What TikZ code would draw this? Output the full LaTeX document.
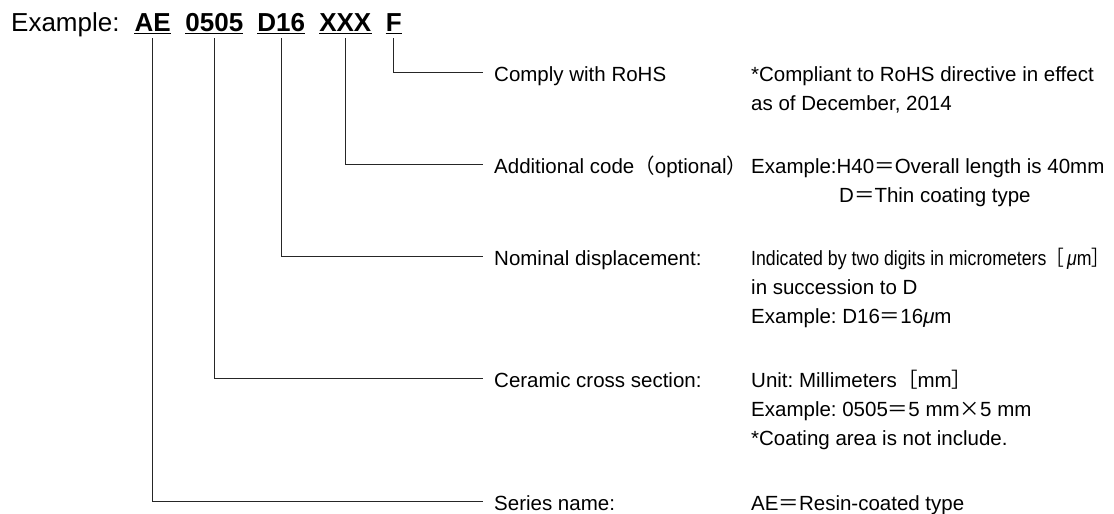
\documentclass[tikz,border=0pt]{standalone}
\usepackage{fontspec}
\setmainfont{Liberation Sans}
\newfontfamily\cjkfont{Noto Sans CJK JP}
\usepackage{graphicx}
\usetikzlibrary{calc}
\frenchspacing
\newcommand\zeq{{\cjkfont ＝}}
\newcommand\zlp{{\cjkfont （}}
\newcommand\zrp{{\cjkfont ）}}
\newcommand\zlb{{\cjkfont ［}}
\newcommand\zrb{{\cjkfont ］}}
\newcommand\zmu{{\itshape μ}}
\newcommand\ztimes{{\cjkfont ×}}
\tikzset{
  title/.style={anchor=base west, inner sep=0pt, font=\fontsize{26}{30}\selectfont},
  part/.style={anchor=base, inner xsep=0pt, inner ysep=0pt, text depth=7pt, font=\fontsize{26}{30}\selectfont\bfseries},
  uline/.style={line width=1.2pt, black},
  conn/.style={line width=0.9pt, black!85},
  lbl/.style={anchor=base west, inner xsep=11pt, inner ysep=0pt, text height=18pt, text depth=0pt, font=\fontsize{20.5}{24}\selectfont},
  desc/.style={anchor=base west, inner sep=0pt, font=\fontsize{20.5}{24}\selectfont},
}
\begin{document}
\begin{tikzpicture}[x=1pt,y=-1pt]
\useasboundingbox (0,0) rectangle (1114,514);
% title
\node[title] (ex) at (11,31) {Example:};
\node[part] (ae) at (152.7,31) {AE};
\node[part] (sec) at (214.3,31) {0505};
\node[part] (disp) at (281.3,31) {D16};
\node[part] (add) at (345.3,31) {XXX};
\node[part] (rohs) at (393.7,31) {F};
\foreach \n in {ae,sec,disp,add,rohs}
  \draw[uline] ([yshift=-2.5pt]\n.base west) -- ([yshift=-2.5pt]\n.base east);
% labels
\node[lbl] (lF) at (483,81.7) {Comply with RoHS};
\node[lbl] (lX) at (483,173.7) {Additional code\zlp optional\zrp};
\node[lbl] (lD) at (483,265) {Nominal displacement:};
\node[lbl] (lS) at (483,387.7) {Ceramic cross section:};
\node[lbl] (lA) at (483,510) {Series name:};
% connectors
\draw[conn] (rohs.south) |- (lF.west);
\draw[conn] (add.south) |- (lX.west);
\draw[conn] (disp.south) |- (lD.west);
\draw[conn] (sec.south) |- (lS.west);
\draw[conn] (ae.south) |- (lA.west);
% descriptions
\node[desc] (dF1) at (751,81.7) {*Compliant to RoHS directive in effect};
\node[desc] (dF2) at (751,110.7) {as of December, 2014};
\node[desc] (dX1) at (751,173.7) {Example:H40\zeq Overall length is 40mm};
\node[desc] (dX2) at (839,202.7) {D\zeq Thin coating type};
\node[desc] (dD1) at (751,265) {\resizebox{358pt}{\height}{Indicated by two digits in micrometers\zlb\,\zmu m\zrb}};
\node[desc] (dD2) at (751,294) {in succession to D};
\node[desc] (dD3) at (751,323) {Example: D16\zeq 16\zmu m};
\node[desc] (dS1) at (751,387.7) {Unit: Millimeters\zlb mm\zrb};
\node[desc] (dS2) at (751,416.7) {Example: 0505\zeq 5 mm\ztimes 5 mm};
\node[desc] (dS3) at (751,445.7) {*Coating area is not include.};
\node[desc] (dA1) at (751,510) {AE\zeq Resin-coated type};
\end{tikzpicture}
\end{document}
